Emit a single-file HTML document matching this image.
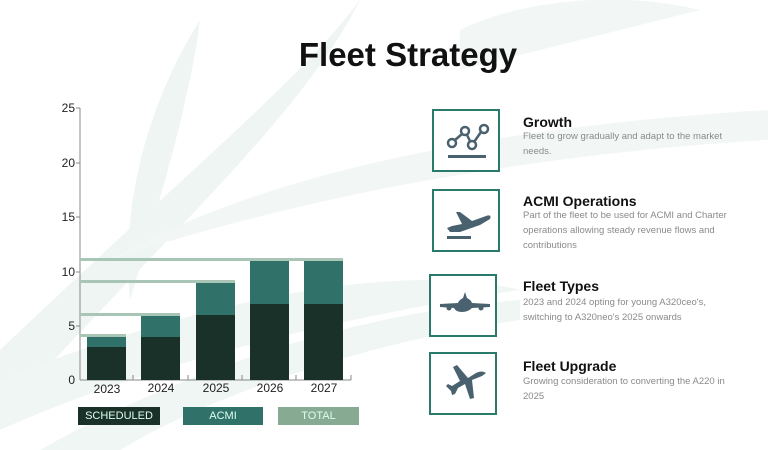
<!DOCTYPE html>
<html><head><meta charset="utf-8"><style>
body{margin:0;width:768px;height:450px;overflow:hidden;background:#fff;font-family:"Liberation Sans",sans-serif;position:relative}
.a{position:absolute}
.box{position:absolute;width:64px;height:59px;border:2px solid #2a7a6c;background:transparent}
.t{position:absolute;left:523px;font-weight:bold;font-size:14px;color:#111}
.d{position:absolute;left:523px;font-size:9.5px;color:#8a8a8a;line-height:15px;width:222px}
.yl{position:absolute;font-size:12px;color:#222;width:20px;text-align:right;left:55px}
.xl{position:absolute;font-size:12px;color:#222;top:381px;width:50px;text-align:center}
.lg{position:absolute;top:407px;height:18px;font-size:11px;color:#dfe;text-align:center;line-height:18px}
</style></head><body>
<svg class="a" style="left:0;top:0" width="768" height="450">
<path d="M200 20 C150 100 120 200 130 300 C160 200 190 100 200 20Z" fill="#eef5f2"/>
<path d="M360 0 C300 80 200 160 0 350 L0 420 C150 250 300 120 360 0Z" fill="#eef5f2"/>
<path d="M0 430 C200 340 450 300 520 290 C400 260 200 300 0 380Z" fill="#f0f6f4"/>
<path d="M110 260 C300 150 600 120 768 110 L768 140 C600 150 350 180 110 260Z" fill="#f2f7f5"/>
<path d="M460 30 C520 0 620 -10 700 10 C620 30 540 50 460 70Z" fill="#f2f7f5"/>
<path d="M40 450 C200 360 380 310 520 300 L520 320 C380 340 220 390 120 450Z" fill="#f0f6f4"/>
<rect x="432" y="109" width="68" height="63" fill="#fff"/><rect x="432" y="189" width="68" height="63" fill="#fff"/>
<rect x="429" y="274" width="68" height="63" fill="#fff"/><rect x="429" y="352" width="68" height="63" fill="#fff"/>
<line x1="80" y1="108" x2="80" y2="380" stroke="#888" stroke-width="1"/>
<line x1="80" y1="380" x2="351" y2="380" stroke="#888" stroke-width="1"/>
<g stroke="#888"><line x1="76" y1="108" x2="80" y2="108"/><line x1="76" y1="163" x2="80" y2="163"/><line x1="76" y1="217" x2="80" y2="217"/><line x1="76" y1="272" x2="80" y2="272"/><line x1="76" y1="326" x2="80" y2="326"/>
<line x1="133" y1="375" x2="133" y2="380"/><line x1="188" y1="375" x2="188" y2="380"/><line x1="242" y1="375" x2="242" y2="380"/><line x1="296" y1="375" x2="296" y2="380"/><line x1="351" y1="375" x2="351" y2="380"/></g>
<g fill="#30726a"><rect x="87" y="336" width="39" height="11"/><rect x="141" y="315" width="39" height="22"/><rect x="196" y="282" width="39" height="33"/><rect x="250" y="260" width="39" height="44"/><rect x="304" y="260" width="39" height="44"/></g>
<g fill="#1a3129"><rect x="87" y="347" width="39" height="33"/><rect x="141" y="337" width="39" height="43"/><rect x="196" y="315" width="39" height="65"/><rect x="250" y="304" width="39" height="76"/><rect x="304" y="304" width="39" height="76"/></g>
<g fill="#a8c5b5"><rect x="80" y="334" width="46" height="3"/><rect x="80" y="313" width="100" height="3"/><rect x="80" y="280" width="155" height="3"/><rect x="80" y="258" width="263" height="3"/></g>
<g fill="none" stroke="#4a6270" stroke-width="2.5"><circle cx="452" cy="143" r="4"/><circle cx="465" cy="131" r="4"/><circle cx="472" cy="145" r="4"/><circle cx="484" cy="129" r="4"/><path d="M455 140 L462 134 M467 135 L470 141 M474 142 L481 132"/></g>
<rect x="448" y="155" width="38" height="3" fill="#4a6270"/>
<path d="M447 228 L452 226 L462 224 L456 212 L460 212 L472 221 L486 216 Q492 214 490 219 L480 225 L460 232 L450 232 Z" fill="#4a6270"/>
<rect x="447" y="236" width="24" height="3" fill="#4a6270"/>
<path d="M465 292 L467 298 Q471 300 472 303 L490 304 L490 307 L472 308 Q468 312 462 312 Q456 312 454 308 L440 307 L440 304 L458 303 Q459 300 463 298Z" fill="#4a6270"/>
<circle cx="449" cy="308" r="2.5" fill="#4a6270"/><circle cx="481" cy="308" r="2.5" fill="#4a6270"/>
<path d="M486 373 Q482 370 476 373 L468 378 L457 365 L453 367 L460 381 L452 386 L448 384 L446 386 L451 391 L452 395 L455 394 L458 388 L465 384 L470 399 L474 398 L472 380 L482 376 Z" fill="#4a6270"/>
</svg>
<div class="a" style="left:0;width:768px;top:36px;text-align:center;font-size:33px;font-weight:bold;color:#111;padding-left:48px;box-sizing:border-box">Fleet Strategy</div>
<div class="yl" style="top:101px">25</div><div class="yl" style="top:156px">20</div><div class="yl" style="top:210px">15</div><div class="yl" style="top:265px">10</div><div class="yl" style="top:319px">5</div><div class="yl" style="top:373px">0</div>
<div class="xl" style="left:82px;top:382px">2023</div><div class="xl" style="left:136px">2024</div><div class="xl" style="left:191px">2025</div><div class="xl" style="left:245px">2026</div><div class="xl" style="left:299px">2027</div>
<div class="lg" style="left:78px;width:82px;background:#1a3129">SCHEDULED</div>
<div class="lg" style="left:183px;width:80px;background:#30726a">ACMI</div>
<div class="lg" style="left:278px;width:81px;background:#86aa92">TOTAL</div>
<div class="box" style="left:432px;top:109px"></div>
<div class="box" style="left:432px;top:189px"></div>
<div class="box" style="left:429px;top:274px"></div>
<div class="box" style="left:429px;top:352px"></div>
<div class="t" style="top:114px">Growth</div>
<div class="d" style="top:129px">Fleet to grow gradually and adapt to the market needs.</div>
<div class="t" style="top:193px">ACMI Operations</div>
<div class="d" style="top:208px">Part of the fleet to be used for ACMI and Charter operations allowing steady revenue flows and contributions</div>
<div class="t" style="top:278px">Fleet Types</div>
<div class="d" style="top:295px">2023 and 2024 opting for young A320ceo's, switching to A320neo's 2025 onwards</div>
<div class="t" style="top:358px">Fleet Upgrade</div>
<div class="d" style="top:374px">Growing consideration to converting the A220 in 2025</div>
</body></html>
